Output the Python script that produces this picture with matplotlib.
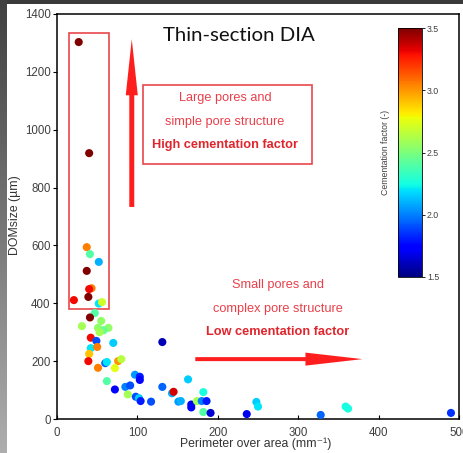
import numpy as np
import matplotlib
matplotlib.use("Agg")
import matplotlib.pyplot as plt
from matplotlib.patches import Rectangle, FancyArrow

plt.rcParams['font.family'] = ['Liberation Sans', 'DejaVu Sans']

# ---- data (perimeter over area, DOMsize, cementation factor) ----
perim = [27, 40, 37, 41, 52, 37, 43, 40, 39, 21, 52, 56, 47, 41, 31, 55, 51, 64,
         58, 53, 42, 49, 42, 50, 70, 40, 39, 51, 60, 62, 76, 80, 72, 62, 72, 97,
         103, 103, 85, 91, 88, 98, 102, 104, 117, 131, 131, 143, 145, 151, 154,
         163, 167, 167, 174, 180, 186, 182, 182, 191, 236, 248, 250, 328, 359,
         362, 490]
domsize = [1303, 919, 594, 570, 543, 512, 452, 449, 422, 411, 399, 404, 366, 351,
           321, 339, 315, 315, 307, 300, 281, 270, 245, 249, 263, 225, 200, 177,
           193, 197, 200, 207, 176, 131, 102, 153, 146, 135, 111, 116, 85, 77, 72,
           62, 60, 266, 111, 89, 94, 60, 62, 137, 50, 40, 62, 62, 62, 93, 24, 21,
           17, 59, 43, 14, 43, 36, 21]
cement = [3.5, 3.5, 3.05, 2.4, 2.1, 3.5, 3.05, 3.3, 3.5, 3.3, 2.2, 2.7, 2.4, 3.5,
          2.6, 2.55, 2.55, 2.55, 2.45, 2.6, 3.3, 1.9, 2.2, 3.05, 2.15, 2.9, 3.3,
          3.05, 1.95, 2.2, 3.0, 2.65, 2.75, 2.4, 1.75, 2.05, 1.8, 1.75, 2.0, 1.9,
          2.6, 1.9, 2.15, 1.8, 1.9, 1.6, 1.95, 2.1, 3.35, 2.05, 2.1, 2.15, 1.7,
          1.75, 2.6, 2.0, 1.8, 2.25, 2.4, 1.65, 1.7, 2.15, 2.2, 1.95, 2.25, 2.25,
          1.85]
x_ticks = [0, 100, 200, 300, 400, 500]
y_ticks = [0, 200, 400, 600, 800, 1000, 1200, 1400]
cb_ticks = [1.5, 2.0, 2.5, 3.0, 3.5]

W, H = 464, 453
fig = plt.figure(figsize=(W / 100, H / 100), dpi=100)
fig.patch.set_facecolor('white')

# decorative screenshot frame: dark top band and left gray gradient strip
top = fig.add_axes([0, 1 - 4 / H, 1, 4 / H])
top.set_axis_off()
top.add_patch(Rectangle((0, 0), 1, 1, color='#3a3a3a', transform=top.transAxes))
left = fig.add_axes([0, 0, 7 / W, 1])
left.set_axis_off()
grad = np.linspace(0.25, 0.68, 256).reshape(-1, 1)
left.imshow(grad, cmap='gray', vmin=0, vmax=1, aspect='auto')

ax = fig.add_axes([57 / W, 34 / H, 402 / W, 405 / H])
sc = ax.scatter(perim, domsize, c=cement, cmap='jet', vmin=1.5, vmax=3.5,
                s=34, edgecolors='none', zorder=3)
ax.set_xlim(0, 500)
ax.set_ylim(0, 1400)
ax.set_xticks(x_ticks)
ax.set_yticks(y_ticks)
ax.tick_params(axis='x', direction='in', length=3, pad=5.5, labelsize=8.3,
               labelcolor='#404040')
ax.tick_params(axis='y', direction='out', length=3, pad=1.5, labelsize=8.3,
               labelcolor='#404040')
for sp in ax.spines.values():
    sp.set_linewidth(1.1)
ax.set_xlabel('Perimeter over area (mm⁻¹)', fontsize=8.8, color='#333333')
ax.set_ylabel('DOMsize (µm)', fontsize=8.8, color='#333333')
ax.xaxis.set_label_coords(0.495, -0.045)
ax.yaxis.set_label_coords(-0.09, 0.504)

# title inside axes
ax.text(226, 1327, 'Thin-section DIA', ha='center', va='center', fontsize=14.7,
        family=['Lato', 'DejaVu Sans'], color='#111111')

red_edge = '#e8474c'
red_txt = '#e8404a'
red_bold = '#e0252d'
arrow_c = '#ff1e1e'

# tall box around large-pore points
ax.add_patch(Rectangle((15, 380), 50, 954, fill=False, ec=red_edge, lw=1.2,
                       zorder=2))
# upward arrow
ax.add_patch(FancyArrow(93, 733, 0, 580, width=6.2, head_width=15,
                        head_length=194, length_includes_head=True,
                        color=arrow_c, lw=0, zorder=2))
# text box 1
ax.add_patch(Rectangle((107, 881), 210, 274, fill=False, ec=red_edge, lw=1.2,
                       zorder=2))
ax.text(209, 1110, 'Large pores and', ha='center', va='center', fontsize=9.2,
        color=red_txt)
ax.text(209, 1027, 'simple pore structure', ha='center', va='center',
        fontsize=9.2, color=red_txt)
ax.text(209, 947, 'High cementation factor', ha='center', va='center',
        fontsize=9.2, color=red_bold, fontweight='bold')

# text 2 and rightward arrow
ax.text(275, 463, 'Small pores and', ha='center', va='center', fontsize=9.2,
        color=red_txt)
ax.text(275, 380, 'complex pore structure', ha='center', va='center',
        fontsize=9.2, color=red_txt)
ax.text(275, 301, 'Low cementation factor', ha='center', va='center',
        fontsize=9.2, color=red_bold, fontweight='bold')
ax.add_patch(FancyArrow(172, 207, 208, 0, width=13.8, head_width=45,
                        head_length=71, length_includes_head=True,
                        color=arrow_c, lw=0, zorder=2))

# colorbar inside the axes
cax = fig.add_axes([398 / W, (H - 277) / H, 24 / W, 249 / H])
cb = fig.colorbar(sc, cax=cax, ticks=cb_ticks, format='%.1f')
cb.outline.set_linewidth(0.6)
cax.tick_params(labelsize=6.3, length=2, width=0.6, pad=1.5, labelcolor='#404040')
cax.yaxis.set_label_position('left')
cax.set_ylabel('Cementation factor (-)', fontsize=6.3, color='#404040',
               labelpad=6)

fig.savefig('out.png', dpi=100)
